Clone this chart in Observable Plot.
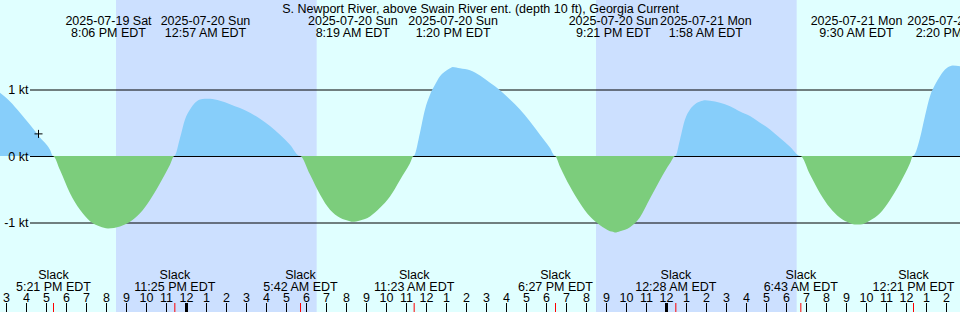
<!DOCTYPE html>
<html>
<head>
<meta charset="utf-8">
<script src="https://cdn.jsdelivr.net/npm/d3@7"></script>
<script src="https://cdn.jsdelivr.net/npm/@observablehq/plot@0.6"></script>
<style>
  html, body { margin: 0; padding: 0; background: #E0FFFF; }
  #chart svg { display: block; }
</style>
</head>
<body>
<div id="chart"></div>
<script>
// Hours relative to 2025-07-20 00:00 EDT
const title = "S. Newport River, above Swain River ent. (depth 10 ft), Georgia Current";

// Current speed (kt), positive = flood, negative = ebb
const hours = [-9.3,-8.8,-8.3,-7.8,-7.3,-6.8,-6.65,-6.3,-5.8,-5.3,-4.8,-4.3,-3.9,-3.3,-2.8,-2.3,-1.8,-1.3,-0.8,-0.583,
  -0.3,-0.05,0.2,0.45,0.7,0.95,1.2,1.7,2.2,2.7,3.2,3.7,4.2,4.7,5.2,5.7,
  6.2,6.7,7.2,7.7,8.2,8.317,8.7,9.2,9.7,10.2,10.7,11.2,11.383,
  11.7,11.95,12.2,12.45,12.7,12.95,13.2,13.333,13.7,14.2,14.7,15.2,15.7,16.2,16.7,17.2,17.7,18.2,18.45,
  18.7,19.2,19.7,20.2,20.7,20.95,21.2,21.35,21.45,21.7,21.95,22.2,22.7,23.2,23.7,24.2,24.467,
  24.7,24.95,25.2,25.45,25.7,25.967,26.2,26.7,27.2,27.7,28.2,28.7,29.2,29.7,30.2,30.717,
  31.2,31.7,32.2,32.7,33.2,33.5,33.7,34.2,34.7,35.2,35.7,36.2,36.35,
  36.7,36.95,37.2,37.45,37.7,37.95,38.2,38.333,38.7];
const knots = [0.95,0.82,0.65,0.47,0.28,0.095,0,-0.21,-0.56,-0.81,-0.98,-1.06,-1.09,-1.06,-0.99,-0.86,-0.66,-0.41,-0.13,0,
  0.27,0.55,0.70,0.80,0.85,0.86,0.86,0.83,0.78,0.72,0.65,0.56,0.45,0.32,0.17,0,
  -0.28,-0.58,-0.81,-0.93,-0.98,-0.99,-0.97,-0.91,-0.78,-0.61,-0.36,-0.11,0,
  0.35,0.70,0.92,1.07,1.20,1.27,1.32,1.34,1.32,1.29,1.21,1.10,0.99,0.85,0.70,0.52,0.32,0.12,0,
  -0.16,-0.46,-0.71,-0.91,-1.04,-1.09,-1.13,-1.14,-1.15,-1.13,-1.11,-1.07,-0.92,-0.64,-0.36,-0.11,0,
  0.25,0.55,0.70,0.78,0.82,0.84,0.83,0.80,0.75,0.67,0.60,0.50,0.40,0.27,0.14,0,
  -0.28,-0.56,-0.78,-0.93,-1.01,-1.03,-1.03,-0.97,-0.86,-0.66,-0.41,-0.11,0,
  0.27,0.60,0.90,1.07,1.20,1.30,1.35,1.36,1.35];

// Max flood / ebb events (top labels)
const maxHours = [-3.9, 0.95, 8.317, 13.333, 21.35, 25.967, 33.5, 38.333];
const maxDates = ["2025-07-19 Sat","2025-07-20 Sun","2025-07-20 Sun","2025-07-20 Sun","2025-07-20 Sun","2025-07-21 Mon","2025-07-21 Mon","2025-07-21 Mon"];
const maxTimes = ["8:06 PM EDT","12:57 AM EDT","8:19 AM EDT","1:20 PM EDT","9:21 PM EDT","1:58 AM EDT","9:30 AM EDT","2:20 PM EDT"];

// Slack events (bottom labels)
const slackHours = [-6.65, -0.583, 5.7, 11.383, 18.45, 24.467, 30.717, 36.35];
const slackTimes = ["5:21 PM EDT","11:25 PM EDT","5:42 AM EDT","11:23 AM EDT","6:27 PM EDT","12:28 AM EDT","6:43 AM EDT","12:21 PM EDT"];

// Night (sunset -> sunrise)
const nightStart = [-3.5, 20.5];
const nightEnd = [6.533, 30.533];

// Hour ticks and labels
const tickHours = d3.range(-9, 39);
const tickLabels = ["3","4","5","6","7","8","9","10","11","12","1","2","3","4","5","6","7","8","9","10","11","12",
  "1","2","3","4","5","6","7","8","9","10","11","12","1","2","3","4","5","6","7","8","9","10","11","12","1","2"];
const midnightHours = [0, 24];

// Reference lines
const gridValues = [1, 0, -1];
const gridLabels = ["1 kt", "0 kt", "-1 kt"];

// "now" marker
const nowHour = [-7.4];
const nowKnots = [0.34];

const series = hours.map((h, i) => ({h, v: knots[i]}));
const events = maxHours.map((h, i) => ({h, date: maxDates[i], time: maxTimes[i]}));
const slacks = slackHours.map((h, i) => ({h, time: slackTimes[i]}));
const nights = nightStart.map((s, i) => ({s, e: nightEnd[i]}));
const ticks = tickHours.map((h, i) => ({h, label: tickLabels[i]}));
const grid = gridValues.map((v, i) => ({v, label: gridLabels[i]}));
const now = nowHour.map((h, i) => ({h, v: nowKnots[i]}));

const cross = {
  draw(context, size) {
    const r = Math.sqrt(size / Math.PI);
    context.moveTo(-r, 0); context.lineTo(r, 0);
    context.moveTo(0, -r); context.lineTo(0, r);
  }
};

const K = 66.5, Z = 156, H = 312;
const FS = 12.5;

const chart = Plot.plot({
  width: 960,
  height: H,
  margin: 0,
  style: {background: "#E0FFFF", fontFamily: "'Liberation Sans', Arial, sans-serif", fontSize: FS + "px", color: "black"},
  x: {domain: [-9.3, 38.7], axis: null},
  y: {domain: [-(H - Z) / K, Z / K], axis: null},
  marks: [
    Plot.rect(nights, {x1: "s", x2: "e", fill: "#CCE0FF"}),
    Plot.ruleY(grid, {y: "v", insetLeft: 30, stroke: "black", strokeWidth: 1}),
    Plot.areaY(series, {x: "h", y: d => Math.max(0, d.v), curve: "monotone-x", fill: "#87CEFA"}),
    Plot.areaY(series, {x: "h", y: d => Math.min(0, d.v), curve: "monotone-x", fill: "#7CCD7C"}),
    Plot.text(grid, {y: "v", text: "label", frameAnchor: "left", textAnchor: "end", dx: 28, fill: "black", fontSize: FS}),
    Plot.dot(now, {x: "h", y: "v", symbol: cross, r: 4, fill: "none", stroke: "black", strokeWidth: 1}),
    Plot.text([title], {text: d => d, frameAnchor: "top", lineAnchor: "bottom", dy: 12, fill: "black", fontSize: FS}),
    Plot.text(events, {x: "h", text: "date", frameAnchor: "top", lineAnchor: "bottom", dy: 24, fill: "black", fontSize: FS}),
    Plot.text(events, {x: "h", text: "time", frameAnchor: "top", lineAnchor: "bottom", dy: 36, fill: "black", fontSize: FS}),
    Plot.text(slacks, {x: "h", text: () => "Slack", frameAnchor: "top", lineAnchor: "bottom", dy: 278, fill: "black", fontSize: FS}),
    Plot.text(slacks, {x: "h", text: "time", frameAnchor: "top", lineAnchor: "bottom", dy: 290, fill: "black", fontSize: FS}),
    Plot.text(ticks, {x: "h", text: "label", frameAnchor: "top", lineAnchor: "bottom", dy: 301.5, fill: "black", fontSize: FS}),
    Plot.ruleX(ticks, {x: "h", insetTop: 303, stroke: "black", strokeWidth: 1}),
    Plot.ruleX(midnightHours, {x: d => d, insetTop: 303, stroke: "black", strokeWidth: 3}),
    Plot.ruleX(slacks, {x: "h", insetTop: 303, stroke: "red", strokeWidth: 1})
  ]
});
document.getElementById("chart").appendChild(chart);
</script>
</body>
</html>
